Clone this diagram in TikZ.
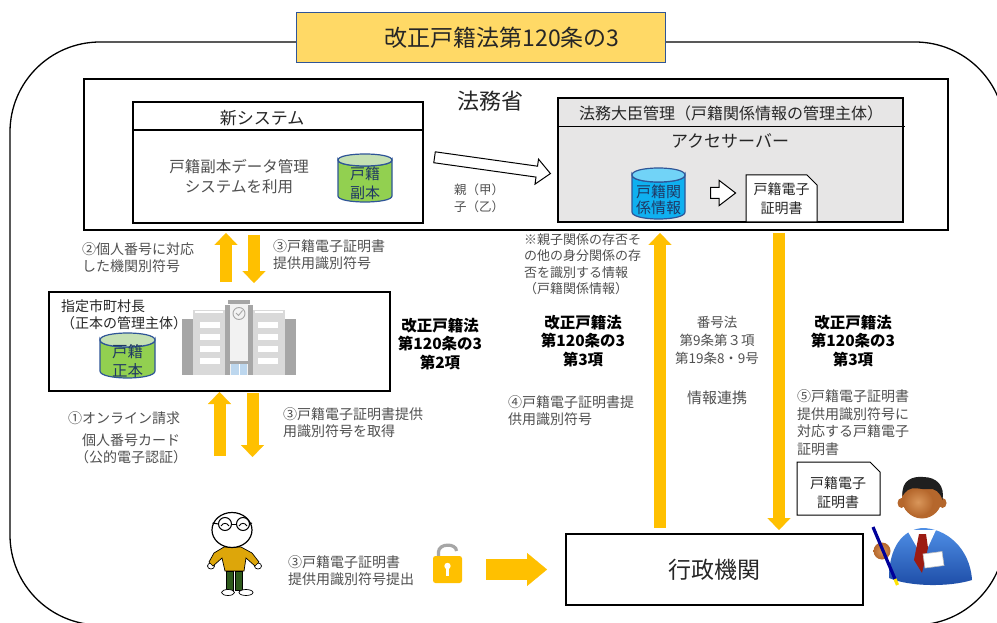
\documentclass[tikz,border=0pt]{standalone}
\usepackage{fontspec}
\setmainfont{Noto Sans CJK JP}
\usetikzlibrary{arrows.meta,shapes.arrows,calc}

\definecolor{gold}{HTML}{FFC000}
\definecolor{titlefill}{HTML}{FFD966}
\definecolor{titleedge}{HTML}{2F5597}
\definecolor{panelgrey}{HTML}{E7E6E6}
\definecolor{labelgrey}{HTML}{505050}
\definecolor{darktext}{HTML}{262626}
\definecolor{cylgreen}{HTML}{92D050}
\definecolor{cylgreentop}{HTML}{C5E0B4}
\definecolor{cylblue}{HTML}{0FB0F0}
\definecolor{cylbluetop}{HTML}{71D3F7}
\definecolor{cyledge}{HTML}{2F5597}
\definecolor{cyltext}{HTML}{203864}
\definecolor{bldgdark}{HTML}{A6A6A6}
\definecolor{bldglight}{HTML}{D9D9D9}
\definecolor{bldgpale}{HTML}{F2F2F2}
\definecolor{doorblue}{HTML}{BDD7EE}
\definecolor{shirtgold}{HTML}{DDA60A}
\definecolor{pantsgreen}{HTML}{2E5A1C}
\definecolor{suitlight}{HTML}{4F8FE6}
\definecolor{suitdark}{HTML}{1D4CA6}
\definecolor{skinlight}{HTML}{D9965A}
\definecolor{skinmid}{HTML}{B5672C}
\definecolor{skindark}{HTML}{8A4518}
\definecolor{tiered}{HTML}{9C1B12}

% database cylinder: x1, x2, top-ellipse y, bottom-ellipse y, y radius, body colour, top colour
\newcommand\drawdbcyl[7]{%
  \pgfmathsetmacro\cylk{4/3*#5}%
  \filldraw[fill=#6, draw=cyledge, line width=1.2pt]
    (#1,#3) -- (#1,#4) .. controls (#1,#4+\cylk) and (#2,#4+\cylk) .. (#2,#4)
    -- (#2,#3) .. controls (#2,#3+\cylk) and (#1,#3+\cylk) .. cycle;
  \filldraw[fill=#7, draw=cyledge, line width=1.2pt]
    (#1,#3) .. controls (#1,#3-\cylk) and (#2,#3-\cylk) .. (#2,#3)
    .. controls (#2,#3+\cylk) and (#1,#3+\cylk) .. cycle;
}
% certificate sheet with a cut corner: x1, y1, x2, y2, cut
\newcommand\drawcert[5]{%
  \filldraw[fill=white, draw=black, line width=1pt]
    (#1,#4) -- (#1,#2) -- (#3-#5,#2) -- (#3,#2+#5) -- (#3,#4) -- cycle;
}

\tikzset{
  every node/.style={inner sep=0pt, outer sep=0pt},
  box/.style={draw=black, line width=1.3pt, fill=white},
  goldarrow/.style={draw=gold, line width=12pt,
    -{Triangle[width=23pt,length=12pt,line width=0.1pt]}},
  goldbig/.style={draw=gold, line width=21pt,
    -{Triangle[width=33pt,length=20pt,line width=0.1pt]}},
  hollowarrow/.style={single arrow, draw=black, fill=white, line width=1pt,
    single arrow head indent=0pt},
  lbl/.style={anchor=north west, align=left, text=labelgrey,
    font=\fontsize{14}{17}\selectfont},
  law/.style={align=center, text=black,
    font=\fontsize{15.5}{18.5}\selectfont\bfseries},
  cyllabel/.style={align=center, text=cyltext},
}

\begin{document}
\begin{tikzpicture}[x=1pt,y=-1pt]
\clip (0,0) rectangle (997,623);
\fill[white] (0,0) rectangle (997,623);

% outer frame
\draw[line width=1.3pt, rounded corners=90pt] (10,42) rectangle (1005,625);

% title
\node[draw=titleedge, fill=titlefill, line width=1pt,
      minimum width=369pt, minimum height=50pt] (title) at (480.5,38) {};
\node[font=\fontsize{23}{26}\selectfont, text=darktext] (titletext) at (502,38)
  {改正戸籍法第120条の3};

% Ministry of Justice
\node[box, line width=1.2pt, minimum width=864pt, minimum height=151pt] (moj) at (516,154.5) {};
\node[font=\fontsize{22}{24}\selectfont, text=darktext] (mojname) at (490,101) {法務省};

% new system
\node[box, line width=1.5pt, minimum width=290pt, minimum height=121pt] (newsys) at (278,162.5) {};
\draw[line width=1.5pt] ($(newsys.north west)+(0,28)$) -- ($(newsys.north east)+(0,28)$);
\node[font=\fontsize{17}{20}\selectfont, text=darktext] (newsysname) at (262,118) {新システム};
\node[align=center, font=\fontsize{15.5}{20}\selectfont, text=labelgrey] (usesys) at (239,177)
  {戸籍副本データ管理\\システムを利用};
\drawdbcyl{338}{392}{160}{196}{6}{cylgreen}{cylgreentop}
\node[cyllabel, font=\fontsize{15}{19}\selectfont] (fukuhon) at (365,183) {戸籍\\副本};

% transfer to the access server
\node[hollowarrow, minimum height=117pt, minimum width=20pt, inner sep=5pt,
      single arrow tip angle=85, rotate=-8] (transfer) at (489.5,165) {};
\node[anchor=north west, align=left, text=labelgrey,
      font=\fontsize{12.5}{16.5}\selectfont] (pair) at (454,184) {親（甲）\\子（乙）};

% minister managed access server
\node[draw=black, line width=2.6pt, fill=panelgrey,
      minimum width=345pt, minimum height=124pt] (minister) at (730.5,160) {};
\draw[line width=1pt] ($(minister.north west)+(0,29)$) -- ($(minister.north east)+(2,29)$);
\node[font=\fontsize{16}{18}\selectfont, text=darktext] (ministername) at (731,113)
  {法務大臣管理（戸籍関係情報の管理主体）};
\node[font=\fontsize{17}{19}\selectfont, text=darktext] (accessserver) at (730,141) {アクセサーバー};
\drawdbcyl{632}{685}{175}{212}{7}{cylblue}{cylbluetop}
\node[cyllabel, font=\fontsize{15}{16}\selectfont] (relinfo) at (658.5,200) {戸籍関\\係情報};
\node[hollowarrow, minimum height=25pt, minimum width=23pt, inner sep=5pt,
      single arrow tip angle=75] (issue) at (719.5,193) {};
\drawcert{746}{175}{817}{222}{10}
\node[align=center, text=darktext, font=\fontsize{14}{19}\selectfont] (certA) at (781.5,199) {戸籍電子\\証明書};

% designated municipality
\node[box, line width=1.5pt, minimum width=341pt, minimum height=99pt] (city) at (219.5,341.5) {};
\node[lbl, text=darktext] (cityname) at (61,300) {指定市町村長\\（正本の管理主体）};
\drawdbcyl{100}{155}{340}{371}{7}{cylgreen}{cylgreentop}
\node[cyllabel, font=\fontsize{15.5}{19}\selectfont] (seihon) at (127.5,361) {戸籍\\正本};

% town hall
\fill[bldgdark] (182,319) rectangle (193,375);
\fill[bldgdark] (285,319) rectangle (296,375);
\fill[bldglight] (193,310) rectangle (225,375);
\fill[bldglight] (253,310) rectangle (285,375);
\fill[white] (195,311) rectangle (223,313);
\fill[white] (255,311) rectangle (283,313);
\foreach \wy in {322,334,346,358} {
  \fill[white] (200,\wy) rectangle (220,\wy+6);
  \fill[white] (258,\wy) rectangle (278,\wy+6);
}
\fill[bldgdark] (225,305) rectangle (230,375);
\fill[bldgdark] (248,305) rectangle (253,375);
\fill[bldgpale] (230,304) rectangle (248,375);
\fill[bldgdark] (228,300) rectangle (250,304);
\draw[bldgdark, line width=0.9pt] (239,313.5) circle [radius=6];
\draw[bldgdark, line width=0.9pt] (236,313) -- (238.5,315.5) -- (242.5,310.5);
\fill[bldgdark] (230,361) rectangle (248,364);
\fill[doorblue] (231,364) rectangle (247,375);
\draw[white, line width=0.8pt] (239,364) -- (239,375);

% exchanges between the municipality and the ministry
\coordinate (upA) at ([xshift=6.5pt]city.north);
\coordinate (dnA) at ([xshift=34.5pt]city.north);
\draw[goldarrow, shorten <=10pt, shorten >=3pt] (upA) -- (upA |- moj.south);
\draw[goldarrow, shorten <=5pt, shorten >=9pt] (dnA |- moj.south) -- (dnA);
\node[lbl] (lbl2) at (82,243) {②個人番号に対応\\した機関別符号};
\node[lbl] (lbl3a) at (273,240) {③戸籍電子証明書\\提供用識別符号};

\node[law] (law2) at (440,344) {改正戸籍法\\第120条の3\\第2項};

% exchanges between the citizen and the municipality
\coordinate (apply) at ([yshift=-65pt]city.south);
\coordinate (receive) at ([xshift=33pt, yshift=-66pt]city.south);
\draw[goldarrow, shorten >=1pt] (apply) -- (apply |- city.south);
\draw[goldarrow, shorten <=2pt] (receive |- city.south) -- (receive);
\node[lbl] (lbl1) at (68,412) {①オンライン請求};
\node[align=center, text=labelgrey, font=\fontsize{14}{17}\selectfont] (mycard) at (131,449)
  {個人番号カード\\（公的電子認証）};
\node[lbl] (lbl3b) at (283,408) {③戸籍電子証明書提供\\用識別符号を取得};

% administrative agency
\node[box, line width=1.5pt, minimum width=297pt, minimum height=71pt,
      font=\fontsize{23}{26}\selectfont, text=darktext] (gov) at (714.5,569.5) {行政機関};

\coordinate (linkup) at ([xshift=-54.5pt]gov.north);
\coordinate (certdown) at ([xshift=64.5pt]gov.north);
\draw[goldarrow, shorten <=6pt, shorten >=3pt] (linkup) -- (linkup |- moj.south);
\draw[goldarrow, shorten <=3pt, shorten >=4pt] (certdown |- moj.south) -- (certdown);

\node[anchor=north west, align=left, text=labelgrey,
      font=\fontsize{13}{16.5}\selectfont] (relnote) at (524,233.5)
  {※親子関係の存否そ\\の他の身分関係の存\\否を識別する情報\\（戸籍関係情報）};
\node[law] (law3a) at (583,341) {改正戸籍法\\第120条の3\\第3項};
\node[lbl] (lbl4) at (508,396) {④戸籍電子証明書提\\供用識別符号};
\node[align=center, text=labelgrey, font=\fontsize{13.5}{18}\selectfont] (mynumlaw) at (717,340)
  {番号法\\第9条第３項\\第19条8・9号};
\node[text=labelgrey, font=\fontsize{15}{17}\selectfont] (linkage) at (717,398) {情報連携};
\node[law] (law3b) at (853,341) {改正戸籍法\\第120条の3\\第3項};
\node[lbl, font=\fontsize{14}{17.4}\selectfont] (lbl5) at (797,390)
  {⑤戸籍電子証明書\\提供用識別符号に\\対応する戸籍電子\\証明書};
\drawcert{797}{462}{880}{515}{10}
\node[align=center, text=darktext, font=\fontsize{14}{19}\selectfont] (certB) at (838,493) {戸籍電子\\証明書};

% citizen
\filldraw[fill=white, draw=black, line width=0.7pt] (211,566) ellipse [x radius=3.5, y radius=3];
\filldraw[fill=white, draw=black, line width=0.7pt] (258,566) ellipse [x radius=3.5, y radius=3];
\filldraw[fill=shirtgold, draw=black, line width=0.7pt]
  (224,547) -- (241,547) -- (252,553) -- (259,562) -- (255,566) -- (246,558)
  -- (244,571) -- (225,571) -- (222,558) -- (213,566) -- (209,562) -- (214,553) -- cycle;
\filldraw[fill=pantsgreen, draw=black, line width=0.6pt] (226,571) rectangle (233,590);
\filldraw[fill=pantsgreen, draw=black, line width=0.6pt] (235,571) rectangle (242,590);
\filldraw[fill=white, draw=black, line width=0.7pt] (228,592.5) ellipse [x radius=6.5, y radius=3];
\filldraw[fill=white, draw=black, line width=0.7pt] (246,592.5) ellipse [x radius=7, y radius=3];
\filldraw[fill=white, draw=black, line width=1.2pt] (232,530) ellipse [x radius=20, y radius=17.5];
\draw[line width=1pt] (225,524) circle [radius=6.5];
\draw[line width=1pt] (243,524) circle [radius=6.5];
\draw[line width=1pt] (212.5,523) -- (218.5,524);
\draw[line width=1pt] (231.5,524) -- (236.5,524);
\draw[line width=1pt] (249.5,524) -- (252,523);
\draw[line width=0.9pt] (221,526) .. controls (223,522.5) and (227,522.5) .. (229,526);
\draw[line width=0.9pt] (239,526) .. controls (241,522.5) and (245,522.5) .. (247,526);
\coordinate (citizen) at (232,553);

\node[lbl] (lbl3c) at (288,556) {③戸籍電子証明書\\提供用識別符号提出};

% padlock
\draw[gray!70, line width=3.2pt] (438.5,557) -- (438.5,552) .. controls (438.5,543) and (456.5,543) .. (456.5,551);
\fill[gold, rounded corners=2.5pt] (433,556) rectangle (462,583);
\fill[white] (447.5,566) circle [radius=3.2];
\fill[white] (446,567) rectangle (449,576);
\coordinate (handover) at (486,569.5);
\draw[goldbig, shorten >=19pt] (handover) -- (gov.west);

% agency official
\shade[top color=suitlight, bottom color=suitdark]
  (889,578) .. controls (889,548) and (902,530) .. (922,528)
  .. controls (946,528) and (970,548) .. (972,580)
  .. controls (950,587) and (910,587) .. cycle;
\fill[white] (907,530) -- (936,530) -- (923,558) -- cycle;
\fill[tiered] (919,534) -- (926,534) -- (928,548) -- (922,573) -- (914,560) -- cycle;
\filldraw[fill=white, draw=gray!50, line width=0.6pt] (923,554) -- (942,551.5) -- (944,565.5) -- (925,568) -- cycle;
\fill[skinmid] (901.5,503) ellipse [x radius=4, y radius=5];
\fill[skinmid] (942.5,503) ellipse [x radius=4, y radius=5];
\fill[skinmid] (922,498) ellipse [x radius=20, y radius=20.5];
\shade[inner color=skinlight, outer color=skinmid] (918,502) ellipse [x radius=15, y radius=14];
\fill[black!88]
  (902.5,496) .. controls (901,480) and (913,476) .. (923,477)
  .. controls (937,477) and (945,486) .. (942.5,500)
  .. controls (940,492) and (935,488) .. (928,489)
  .. controls (921,490) and (913,486) .. (908,490)
  .. controls (905,492) and (904,494) .. cycle;
\coordinate (official) at (925,530);
\shade[inner color=skinlight, outer color=skinmid] (882,551) circle [radius=8.5];
\draw[line width=3.2pt, blue!60!black] (873,527) -- (895,579);
\draw[line width=3.2pt, yellow!85!orange] (895,579) -- (897.5,585);

\end{tikzpicture}
\end{document}
